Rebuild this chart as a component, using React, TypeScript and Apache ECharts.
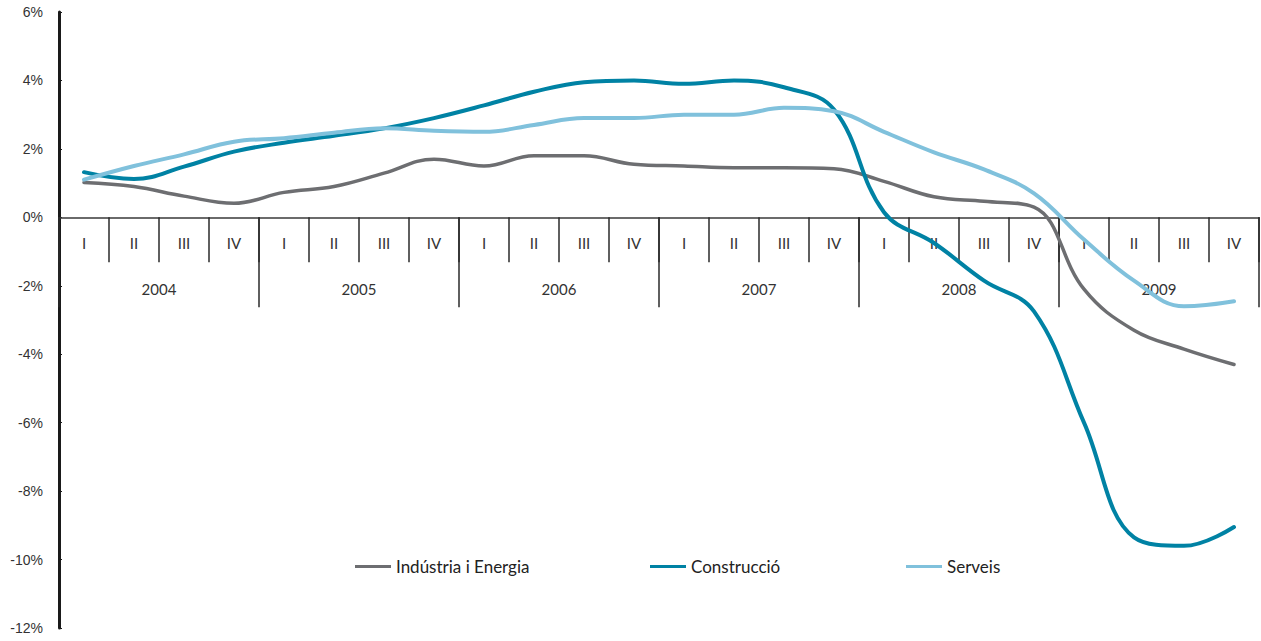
import React, { useEffect, useRef } from "react";
import * as echarts from "echarts";

const quarters = [
  "I", "II", "III", "IV", "I", "II", "III", "IV", "I", "II", "III", "IV",
  "I", "II", "III", "IV", "I", "II", "III", "IV", "I", "II", "III", "IV",
];
const years = ["2004", "2005", "2006", "2007", "2008", "2009"];

const industria = [
  1.02, 0.9, 0.62, 0.41, 0.73, 0.9, 1.29, 1.7,
  1.5, 1.8, 1.8, 1.55, 1.5, 1.45, 1.45, 1.42,
  1.05, 0.6, 0.47, 0.3, -2.1, -3.3, -3.85, -4.3,
];
const construccio = [
  1.32, 1.12, 1.48, 1.92, 2.18, 2.38, 2.6, 2.9,
  3.27, 3.67, 3.95, 4.0, 3.9, 4.0, 3.8, 3.15,
  0.15, -0.75, -1.85, -2.75, -6.0, -9.35, -9.6, -9.05,
];
const serveis = [
  1.1, 1.5, 1.84, 2.21, 2.31, 2.47, 2.6, 2.53,
  2.5, 2.7, 2.9, 2.9, 3.0, 3.0, 3.2, 3.1,
  2.5, 1.9, 1.4, 0.7, -0.65, -1.85, -2.6, -2.45,
];

const names = ["Indústria i Energia", "Construcció", "Serveis"];
const colors = ["#6d6e71", "#0082a4", "#80c1dc"];

const Y_MIN = -12;
const Y_MAX = 6;
const GRID_TOP = 12;
const GRID_BOTTOM = 13;
const H = 641;
const W = 1261;

export default function App() {
  const ref = useRef<HTMLDivElement>(null);
  useEffect(() => {
    if (!ref.current) return;
    const chart = echarts.init(ref.current, undefined, { renderer: "svg" });
    const labelFont = "Lato, 'Open Sans', sans-serif";
    const plotH = H - GRID_TOP - GRID_BOTTOM;
    const zeroY = GRID_TOP + (Y_MAX / (Y_MAX - Y_MIN)) * plotH;
    const mkSeries = (name: string, data: number[], color: string, width: number) => ({
      type: "line",
      name,
      data,
      smooth: 0.4,
      symbol: "none",
      xAxisIndex: 0,
      yAxisIndex: 0,
      lineStyle: { color, width, cap: "round" },
      itemStyle: { color },
      z: 5,
    });
    const legendPos = [355, 650, 906];
    chart.setOption({
      animation: false,
      backgroundColor: "#ffffff",
      grid: [
        { left: 59, right: 2, top: GRID_TOP, bottom: GRID_BOTTOM, containLabel: false, outerBoundsMode: "none" },
        { left: 59, right: 2, top: zeroY, height: 90, containLabel: false, outerBoundsMode: "none" },
      ],
      legend: names.map((n, i) => ({
        data: [n],
        left: legendPos[i],
        top: 558,
        padding: 0,
        icon: "rect",
        itemWidth: 36,
        itemHeight: 3,
        itemGap: 0,
        textStyle: { fontFamily: labelFont, fontSize: 17, color: "#222" },
        selectedMode: false,
      })),
      xAxis: [
        {
          type: "category",
          gridIndex: 0,
          data: quarters,
          boundaryGap: true,
          show: false,
        },
        {
          type: "category",
          gridIndex: 1,
          data: quarters,
          boundaryGap: true,
          position: "top",
          axisLine: { show: true, onZero: false, lineStyle: { color: "#3a3a3a", width: 1.5 } },
          axisTick: {
            show: true,
            inside: true,
            interval: 0,
            alignWithLabel: false,
            length: 45,
            lineStyle: { color: "#2a2a2a", width: 1.5 },
          },
          axisLabel: {
            inside: true,
            interval: 0,
            margin: 18,
            fontFamily: labelFont,
            fontSize: 15,
            color: "#333",
          },
          splitLine: { show: false },
          z: 3,
        },
        {
          type: "category",
          gridIndex: 1,
          data: years,
          boundaryGap: true,
          position: "top",
          axisLine: { show: false, onZero: false },
          axisTick: {
            show: true,
            inside: true,
            interval: 0,
            alignWithLabel: false,
            length: 90,
            lineStyle: { color: "#2a2a2a", width: 1.5 },
          },
          axisLabel: {
            inside: true,
            interval: 0,
            margin: 64,
            fontFamily: labelFont,
            fontSize: 15,
            color: "#333",
          },
          splitLine: { show: false },
          z: 3,
        },
      ],
      yAxis: [
        {
          type: "value",
          gridIndex: 0,
          min: Y_MIN,
          max: Y_MAX,
          interval: 2,
          axisLine: { show: true, lineStyle: { color: "#1a1a1a", width: 3 } },
          axisTick: { show: true, inside: true, length: 3, lineStyle: { color: "#1a1a1a", width: 1 } },
          axisLabel: {
            formatter: (v: number) => `${v}%`,
            margin: 16,
            fontFamily: "'Liberation Sans', Arial, sans-serif",
            fontSize: 14,
            color: "#333",
          },
          splitLine: { show: false },
        },
        {
          type: "value",
          gridIndex: 1,
          min: 0,
          max: 1,
          show: false,
        },
      ],
      series: [
        mkSeries(names[0], industria, colors[0], 3.5),
        mkSeries(names[1], construccio, colors[1], 4),
        mkSeries(names[2], serveis, colors[2], 4),
      ],
    });
    return () => chart.dispose();
  }, []);
  return (
    <div
      ref={ref}
      style={{ position: "fixed", left: 0, top: 0, width: W, height: H, background: "#fff" }}
    />
  );
}
